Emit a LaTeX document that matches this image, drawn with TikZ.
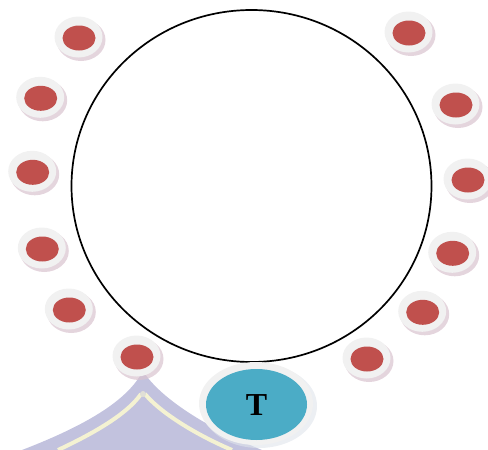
\documentclass[tikz,border=0pt]{standalone}
\usepackage{fontspec}
\setmainfont{Liberation Serif}
\begin{document}
\begin{tikzpicture}[x=1pt,y=-1pt,
  ringshadow/.style={fill=shadowc, opacity=0.7},
  ringouter/.style={fill=ringc},
  dotinner/.style={fill=dotred},
]
\definecolor{shadowc}{HTML}{D9C3CF}
\definecolor{ringc}{HTML}{F1F1F1}
\definecolor{dotred}{HTML}{C0504D}
\definecolor{tblue}{HTML}{4BACC6}
\definecolor{lav}{HTML}{C2C2DE}
\definecolor{paleyel}{HTML}{F4F2D2}
\useasboundingbox (0,0) rectangle (488,450);
% watermark
\fill[lav] (143,371) .. controls (130,395) and (100,420) .. (22,450)
  -- (262,450) .. controls (200,425) and (158,395) .. (143,371) -- cycle;
\draw[paleyel, line width=4pt] (58,450) .. controls (105,428) and (130,410) .. (141,394);
\draw[paleyel, line width=4pt] (145,394) .. controls (158,410) and (190,432) .. (232,450);
\fill[paleyel!60!lav] (143,394) circle (3);
% big circle
\coordinate (c) at (251.5,186);
\draw[line width=1.7pt] (c) ellipse [x radius=180, y radius=176];
% small dots
\foreach \n/\x/\y in {l1/79/38, l2/40.7/98.3, l3/32.7/172.3, l4/42.3/249, l5/69.3/310, l6/137/357,
                      r1/409/33, r2/456/105, r3/468/180, r4/452.7/253.3, r5/422.7/312.3, r6/367/359}{
  \fill[ringshadow] (\x+2,\y+2) ellipse [x radius=24.5, y radius=21];
  \fill[ringouter] (\x-0.5,\y-1) ellipse [x radius=24, y radius=20.5];
  \fill[dotinner] (\x,\y) ellipse [x radius=16.5, y radius=12.5];
  \coordinate (\n) at (\x,\y);
}
% T node
\fill[shadowc!70!tblue!40, opacity=0.6] (259,406) ellipse [x radius=58, y radius=42];
\fill[ringc] (256,403.5) ellipse [x radius=57, y radius=41.5];
\fill[tblue] (256.5,404.5) ellipse [x radius=50.5, y radius=35.5];
\node[font=\bfseries\fontsize{32}{36}\selectfont, inner sep=0] (t) at (256.5,405) {T};
\end{tikzpicture}
\end{document}
